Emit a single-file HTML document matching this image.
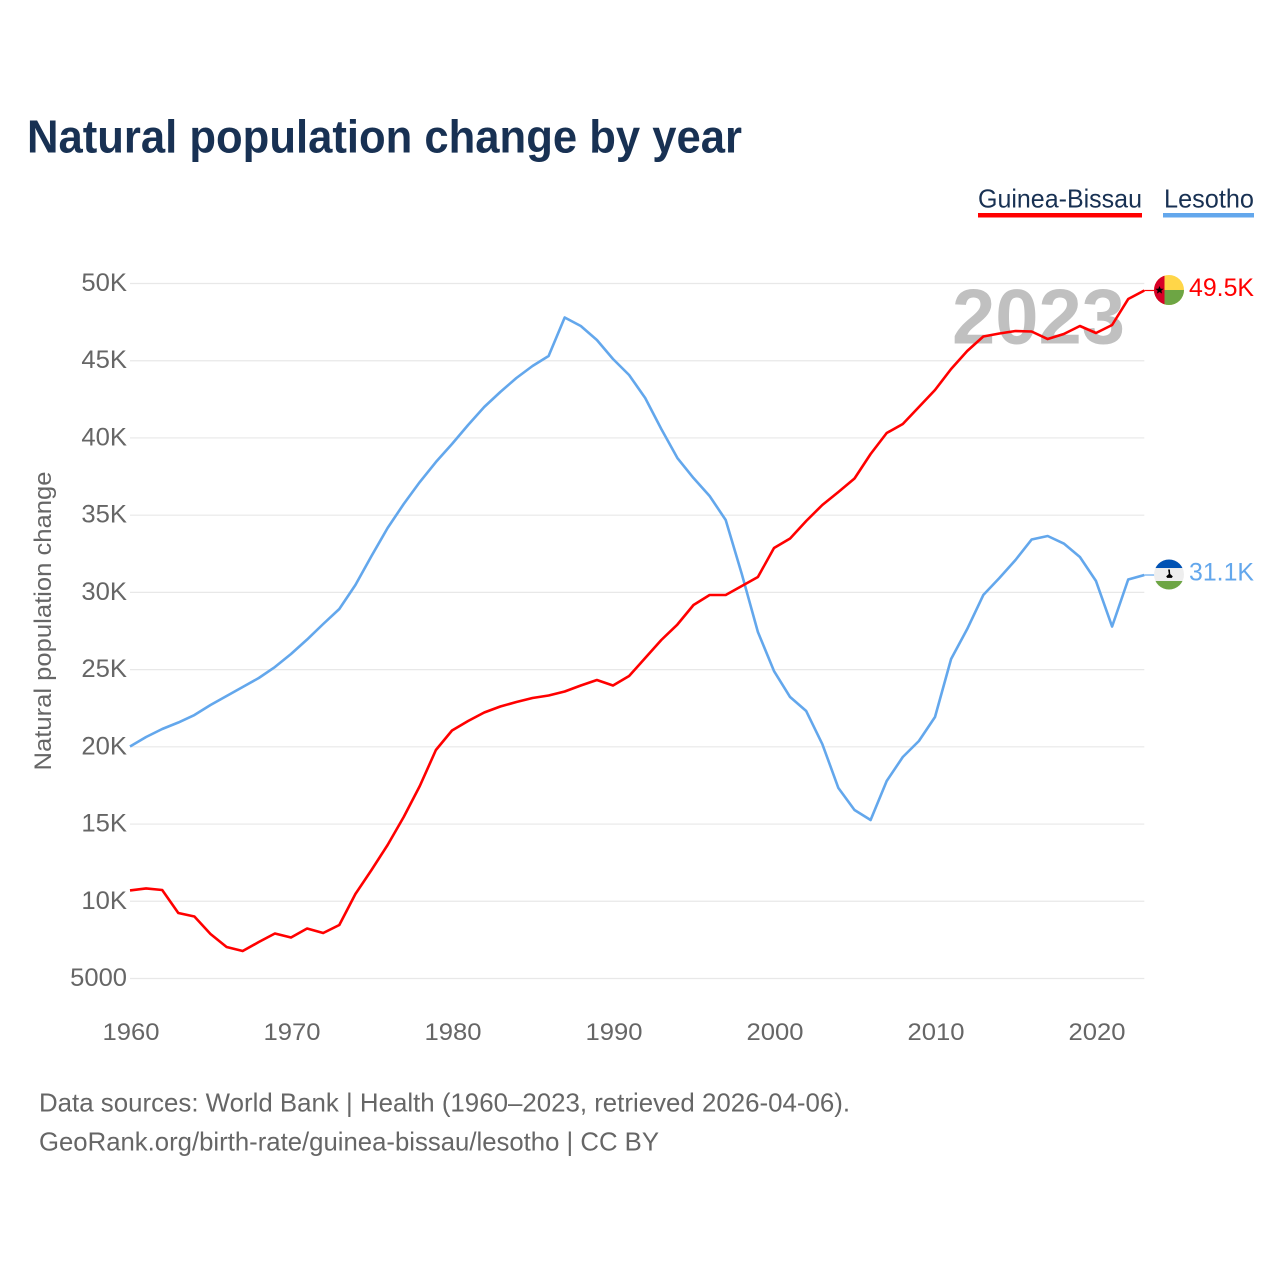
<!DOCTYPE html>
<html lang="en">
<head>
<meta charset="utf-8">
<title>Natural population change by year</title>
<style>
html,body{margin:0;padding:0;background:#fff;width:1280px;height:1280px;overflow:hidden}
svg{display:block}
text{font-family:"Liberation Sans",sans-serif}
</style>
</head>
<body>
<svg id="chart" xmlns="http://www.w3.org/2000/svg" width="1280" height="1280" viewBox="0 0 1280 1280">
  <rect x="0" y="0" width="1280" height="1280" fill="#ffffff"/>
  <text x="27" y="152.5" font-size="46" font-weight="700" fill="#183153" textLength="715" lengthAdjust="spacingAndGlyphs">Natural population change by year</text>

  <g>
    <text x="978" y="207.5" font-size="26" fill="#183153" textLength="164" lengthAdjust="spacingAndGlyphs">Guinea-Bissau</text>
    <rect x="978" y="213" width="164" height="4.5" fill="#ff0000"/>
  </g>
  <g>
    <text x="1164" y="207.5" font-size="26" fill="#183153" textLength="90" lengthAdjust="spacingAndGlyphs">Lesotho</text>
    <rect x="1163" y="213" width="91" height="4.5" fill="#63a7ec"/>
  </g>

  <text transform="translate(51 621) rotate(-90)" text-anchor="middle" font-size="24" fill="#666666" textLength="299" lengthAdjust="spacingAndGlyphs">Natural population change</text>

  <g id="grid"></g>
  <g id="yticks"></g>
  <g id="xticks"></g>

  <text id="year-label" x="952" y="343.5" font-size="78" font-weight="700" fill="#c0c0c0" textLength="173" lengthAdjust="spacingAndGlyphs">2023</text>

  <g id="series"></g>

  <defs>
    <clipPath id="clip-gw"><circle cx="0" cy="0" r="15"/></clipPath>
    <clipPath id="clip-ls"><circle cx="0" cy="0" r="15"/></clipPath>
  </defs>

  <g id="flag-gw">
    <g clip-path="url(#clip-gw)">
      <rect x="-15" y="-15" width="30" height="30" fill="#ffd648"/>
      <rect x="-15" y="0" width="30" height="15" fill="#6da544"/>
      <rect x="-15" y="-15" width="10.5" height="30" fill="#d80027"/>
      <polygon points="-9.5,-4 -8.3,-1.2 -5.4,-1.2 -7.7,0.7 -6.9,3.6 -9.5,2 -12.1,3.6 -11.3,0.7 -13.6,-1.2 -10.7,-1.2" fill="#000000"/>
    </g>
  </g>
  <g id="flag-ls">
    <g clip-path="url(#clip-ls)">
      <rect x="-15" y="-15" width="30" height="30" fill="#eeeeee"/>
      <rect x="-15" y="-15" width="30" height="8.5" fill="#0052b4"/>
      <rect x="-15" y="6.5" width="30" height="8.5" fill="#6da544"/>
      <path d="M-0.9,-5 h1.8 l0.3,4.5 l2.6,2.4 l-1,1.4 h-4.6 l-1,-1.4 l2.6,-2.4 z" fill="#000000"/>
    </g>
  </g>

  <text id="value-gw" x="1189" y="296" font-size="25" fill="#ff0000" textLength="65" lengthAdjust="spacingAndGlyphs"></text>
  <text id="value-ls" x="1189" y="580" font-size="25" fill="#63a7ec" textLength="65" lengthAdjust="spacingAndGlyphs"></text>

  <text x="39" y="1111.5" font-size="26" fill="#666666" textLength="811" lengthAdjust="spacingAndGlyphs">Data sources: World Bank | Health (1960–2023, retrieved 2026-04-06).</text>
  <text x="39" y="1150.5" font-size="26" fill="#666666" textLength="620" lengthAdjust="spacingAndGlyphs">GeoRank.org/birth-rate/guinea-bissau/lesotho | CC BY</text>
</svg>
<script>
const firstYear = 1960;
const guineaBissau = [10700,10830,10730,9240,9013,7880,7038,6779,7362,7912,7653,8236,7945,8463,10470,12024,13643,15456,17463,19794,21057,21672,22222,22611,22902,23161,23323,23582,23970,24327,23970,24586,25751,26917,27920,29183,29830,29830,30413,30996,32874,33489,34622,35658,36500,37374,38960,40320,40903,42003,43104,44464,45629,46568,46762,46924,46892,46406,46730,47248,46795,47313,48996,49547];
const lesotho = [20021,20636,21154,21575,22060,22708,23291,23873,24456,25168,26010,26949,27953,28924,30478,32356,34169,35723,37147,38442,39608,40838,42003,42975,43881,44658,45306,47799,47248,46342,45111,44075,42586,40579,38701,37406,36241,34687,31190,27435,24909,23226,22319,20183,17334,15909,15262,17787,19341,20377,21931,25686,27629,29830,30931,32097,33424,33651,33165,32291,30737,27791,30834,31125];
const yTickValues = [50000,45000,40000,35000,30000,25000,20000,15000,10000,5000];
const yTickLabels = ["50K","45K","40K","35K","30K","25K","20K","15K","10K","5000"];
const xTickValues = [1960,1970,1980,1990,2000,2010,2020];

const SVGNS = "http://www.w3.org/2000/svg";
function xScale(year){ return 130 + (year - 1960) * 16.1; }
function yScale(v){ return 283.5 + (50000 - v) * 695 / 45000; }
function make(tag, parent){
  const el = document.createElementNS(SVGNS, tag);
  parent.appendChild(el);
  return el;
}
const lastX = xScale(firstYear + guineaBissau.length - 1);

const grid = document.getElementById("grid");
const yticks = document.getElementById("yticks");
yTickValues.forEach(function(v, i){
  const line = make("line", grid);
  
  
  line.setAttribute("x1", 130);
  line.setAttribute("x2", lastX);
  line.setAttribute("y1", yScale(v));
  line.setAttribute("y2", yScale(v));
  line.setAttribute("stroke", "#e8e8e8");
  line.setAttribute("stroke-width", "1.2");
  const t = make("text", yticks);
  
  
  t.setAttribute("x", 127);
  t.setAttribute("y", yScale(v) + 7.5);
  t.setAttribute("text-anchor", "end");
  t.setAttribute("font-size", "25");
  t.setAttribute("fill", "#666666");
  t.setAttribute("textLength", yTickLabels[i].length * 15.2 - (yTickLabels[i].length === 4 ? 4 : 0));
  t.setAttribute("lengthAdjust", "spacingAndGlyphs");
  t.textContent = yTickLabels[i];
});

const xticks = document.getElementById("xticks");
xTickValues.forEach(function(year){
  const t = make("text", xticks);
  
  
  t.setAttribute("x", xScale(year) + 1);
  t.setAttribute("y", 1040);
  t.setAttribute("text-anchor", "middle");
  t.setAttribute("font-size", "24");
  t.setAttribute("fill", "#666666");
  t.setAttribute("textLength", "57");
  t.setAttribute("lengthAdjust", "spacingAndGlyphs");
  t.textContent = String(year);
});

const seriesGroup = document.getElementById("series");
function points(values){
  return values.map(function(v, i){
    return xScale(firstYear + i).toFixed(2) + "," + yScale(v).toFixed(2);
  }).join(" ");
}
function lastPoint(values){ return yScale(values[values.length - 1]); }
function formatK(v){ return (v / 1000).toFixed(1) + "K"; }

const lineB = make("polyline", seriesGroup);


lineB.setAttribute("points", points(lesotho));
lineB.setAttribute("fill", "none");
lineB.setAttribute("stroke", "#63a7ec");
lineB.setAttribute("stroke-width", "2.6");
lineB.setAttribute("stroke-linejoin", "round");

const lineR = make("polyline", seriesGroup);


lineR.setAttribute("points", points(guineaBissau));
lineR.setAttribute("fill", "none");
lineR.setAttribute("stroke", "#ff0000");
lineR.setAttribute("stroke-width", "2.6");
lineR.setAttribute("stroke-linejoin", "round");

const connR = make("line", seriesGroup);


connR.setAttribute("x1", lastX);
connR.setAttribute("x2", 1156);
connR.setAttribute("y1", lastPoint(guineaBissau));
connR.setAttribute("y2", lastPoint(guineaBissau));
connR.setAttribute("stroke", "#ff0000");
connR.setAttribute("stroke-width", "1.2");

const connB = make("line", seriesGroup);


connB.setAttribute("x1", lastX);
connB.setAttribute("x2", 1156);
connB.setAttribute("y1", lastPoint(lesotho));
connB.setAttribute("y2", lastPoint(lesotho));
connB.setAttribute("stroke", "#63a7ec");
connB.setAttribute("stroke-width", "1.2");

document.getElementById("flag-gw").setAttribute("transform", "translate(1169 " + (lastPoint(guineaBissau) - 0.5) + ")");
document.getElementById("flag-ls").setAttribute("transform", "translate(1169 " + (lastPoint(lesotho) - 0.5) + ")");

const valueGw = document.getElementById("value-gw");
valueGw.textContent = formatK(guineaBissau[guineaBissau.length - 1]);
valueGw.setAttribute("y", lastPoint(guineaBissau) + 5.5);
const valueLs = document.getElementById("value-ls");
valueLs.textContent = formatK(lesotho[lesotho.length - 1]);
valueLs.setAttribute("y", lastPoint(lesotho) + 5.5);
document.getElementById("year-label").textContent = String(firstYear + guineaBissau.length - 1);
</script>
</body>
</html>
